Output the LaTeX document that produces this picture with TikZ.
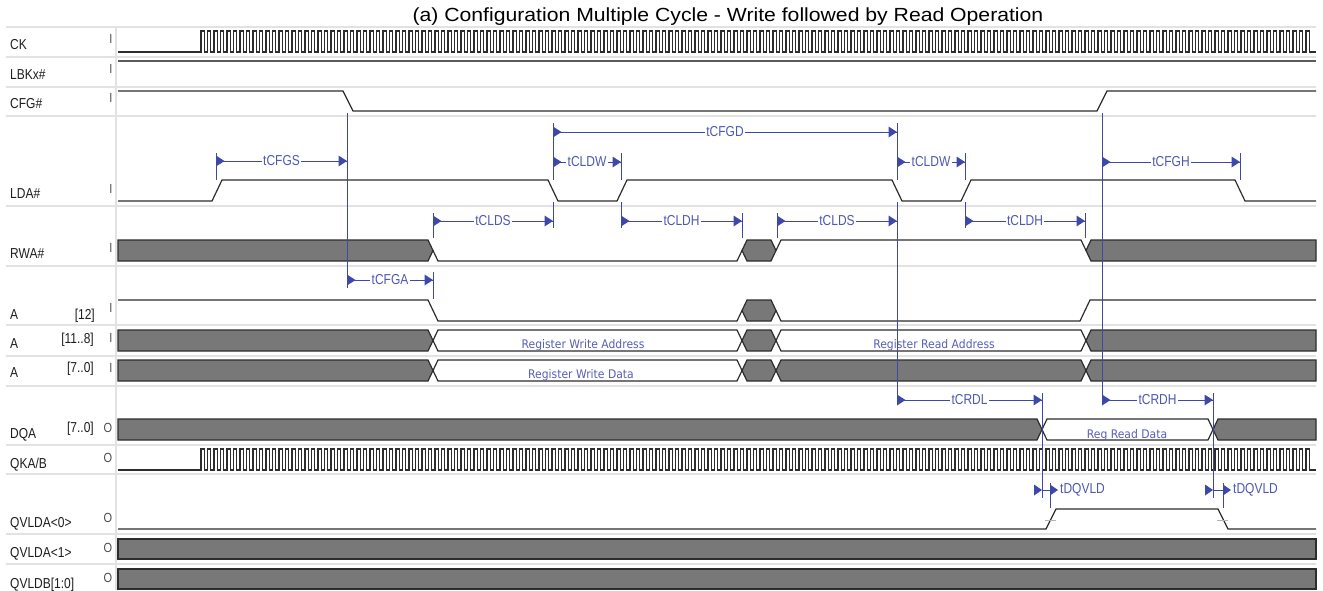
\documentclass[tikz,border=0pt]{standalone}
\usepackage{fontspec}
\setmainfont{Liberation Sans}
\newfontfamily\regfont{DejaVu Sans}
\definecolor{sig}{RGB}{45,45,45}
\definecolor{busfill}{RGB}{120,120,120}
\definecolor{sepc}{RGB}{226,226,226}
\definecolor{ann}{RGB}{62,72,168}
\definecolor{anntext}{RGB}{78,88,178}
\definecolor{regtext}{RGB}{88,95,182}
\definecolor{lbk}{RGB}{90,90,90}
\definecolor{labc}{RGB}{30,30,30}
\newcommand\tall[1]{\scalebox{1}[1.2]{#1}}
\newcommand\bushex[5]{\path[#1] (#2,{(#4+#5)/2}) -- (#2+5,#4) -- (#3-5,#4) -- (#3,{(#4+#5)/2}) -- (#3-5,#5) -- (#2+5,#5) -- cycle;}
\newcommand\busleft[4]{\path[#1] (118,#3) -- (#2-5,#3) -- (#2,{(#3+#4)/2}) -- (#2-5,#4) -- (118,#4) -- cycle;}
\newcommand\busright[4]{\path[#1] (1316,#3) -- (#2+5,#3) -- (#2,{(#3+#4)/2}) -- (#2+5,#4) -- (1316,#4) -- cycle;}
\newcommand\tarrow[5]{%
  \draw[annline] (#2,#4) -- (#3,#4);
  \fill[ann] (#2,#4-5.5) -- (#2+8.5,#4) -- (#2,#4+5.5) -- cycle;
  \fill[ann] (#3-8.5,#4-5.5) -- (#3,#4) -- (#3-8.5,#4+5.5) -- cycle;
  \node[anntxt] (#1) at ({(#2+#3)/2},#4) {\tall{#5}};}
\begin{document}
\begin{tikzpicture}[x=1pt,y=-1pt,
  sigline/.style={draw=sig,line width=1.2pt,line join=miter},
  bus/.style={draw=sig,fill=busfill,line width=1.2pt},
  wbus/.style={draw=sig,fill=white,line width=1.2pt},
  sepline/.style={draw=sepc,line width=1.6pt},
  annline/.style={draw=ann,line width=0.9pt},
  anntxt/.style={fill=white,inner sep=1.2pt,text=anntext,font=\fontsize{12}{12}\selectfont},
  lbl/.style={anchor=base west,inner sep=0,text=labc,font=\fontsize{12}{12}\selectfont},
  sublbl/.style={anchor=base east,inner sep=0,text=labc,font=\fontsize{12}{12}\selectfont},
  io/.style={anchor=base,inner sep=0,text=labc!80,font=\fontsize{11}{11}\selectfont},
  regtxt/.style={anchor=base,inner sep=0,text=regtext,font=\regfont\fontsize{10.8}{10.8}\selectfont}]
\useasboundingbox (0,0) rectangle (1323,590);
\fill[white] (0,0) rectangle (1323,590);
% separators
\foreach \yy in {27,57,87,116,206,266,325,356,386,445,474,534,564}
  \draw[sepline] (6,\yy) -- (1316,\yy);
\draw[sepline] (116,27) -- (116,590);
% title
\node[anchor=base,inner sep=0,font=\fontsize{19}{19}\selectfont] (title) at (728,21) {\scalebox{1.115}[1]{(a) Configuration Multiple Cycle - Write followed by Read Operation}};
% labels
\node[lbl] (lck) at (10,49) {\tall{CK}};
\node[lbl] (llbk) at (10,79) {\tall{LBKx\#}};
\node[lbl] (lcfg) at (10,108) {\tall{CFG\#}};
\node[lbl] (llda) at (10,198) {\tall{LDA\#}};
\node[lbl] (lrwa) at (10,258) {\tall{RWA\#}};
\node[lbl] (la12) at (10,319) {\tall{A}};
\node[lbl] (la118) at (10,348) {\tall{A}};
\node[lbl] (la70) at (10,377) {\tall{A}};
\node[lbl] (ldqa) at (10,438) {\tall{DQA}};
\node[lbl] (lqk) at (10,468) {\tall{QKA/B}};
\node[lbl] (lqv0) at (10,527) {\tall{QVLDA<0>}};
\node[lbl] (lqv1) at (10,557) {\tall{QVLDA<1>}};
\node[lbl] (lqvb) at (10,588) {\tall{QVLDB[1:0]}};
\node[sublbl] (s12) at (95,319) {\tall{[12]}};
\node[sublbl] (s118) at (94,343) {\tall{[11..8]}};
\node[sublbl] (s70) at (94,372) {\tall{[7..0]}};
\node[sublbl] (sdq) at (94,432) {\tall{[7..0]}};
% I/O markers
\foreach \yy/\nm in {43/i1,73/i2,102/i3,193/i4,252/i5,312/i6,342/i7,372/i8}
  \node[io] (\nm) at (111,\yy) {\tall{I}};
\foreach \yy/\nm in {432/o1,462/o2,522/o3,552/o4,582/o5}
  \node[io] (\nm) at (108,\yy) {\tall{O}};
% CK
\draw[sigline] (118,52) -- (201,52) foreach \i in {1,...,171} { -- ++(0,-21) -- ++(3.25,0) -- ++(0,21) -- ++(3.25,0)} -- (1316,52);
% LBKx#
\draw[lbk,line width=2pt] (118,61) -- (1316,61);
% CFG#
\draw[sigline] (118,91) -- (343,91) -- (353,111) -- (1097,111) -- (1107,91) -- (1316,91);
% LDA#
\draw[sigline] (118,201) -- (212,201) -- (222,180) -- (548,180) -- (558,201) -- (617,201) -- (627,180) -- (892,180) -- (902,201) -- (961,201) -- (971,180) -- (1235,180) -- (1245,201) -- (1316,201);
% RWA#
\busleft{bus}{433}{240}{261}
\draw[sigline] (433,250.5) -- (438,261) -- (737,261) -- (742,250.5);
\bushex{bus}{742}{776}{240}{261}
\draw[sigline] (776,250.5) -- (781,240) -- (1081,240) -- (1086,250.5);
\busright{bus}{1086}{240}{261}
% A[12]
\draw[sigline] (118,300) -- (428,300) -- (438,321) -- (737,321) -- (742,310.5);
\bushex{bus}{742}{776}{300}{321}
\draw[sigline] (776,310.5) -- (781,321) -- (1080,321) -- (1090,300) -- (1316,300);
% A[11..8]
\busleft{bus}{433}{330}{351}
\bushex{wbus}{433}{742}{330}{351}
\bushex{bus}{742}{776}{330}{351}
\bushex{wbus}{776}{1086}{330}{351}
\busright{bus}{1086}{330}{351}
\node[regtxt] (rwa) at (583,348) {\scalebox{1}[1.1]{Register Write Address}};
\node[regtxt] (rra) at (934,348) {\scalebox{1}[1.1]{Register Read Address}};
% A[7..0]
\busleft{bus}{433}{360}{381}
\bushex{wbus}{433}{742}{360}{381}
\bushex{bus}{742}{776}{360}{381}
\bushex{bus}{776}{1086}{360}{381}
\busright{bus}{1086}{360}{381}
\node[regtxt] (rwd) at (581,378) {\scalebox{1}[1.1]{Register Write Data}};
% DQA
\busleft{bus}{1042}{419}{440}
\bushex{wbus}{1042}{1213}{419}{440}
\busright{bus}{1213}{419}{440}
\node[regtxt] (rrd) at (1127,438) {\scalebox{1}[1.1]{Reg Read Data}};
% QKA/B
\draw[sigline] (118,470) -- (201,470) foreach \i in {1,...,171} { -- ++(0,-21) -- ++(3.25,0) -- ++(0,21) -- ++(3.25,0)} -- (1316,470);
% QVLDA<0>
\draw[sigline] (118,529) -- (1046,529) -- (1056,509) -- (1218,509) -- (1228,529) -- (1316,529);
\draw[gray!60,line width=0.8pt] (1045,520) -- (1056,520) (1217,520) -- (1228,520);
% QVLDA<1>, QVLDB
\path[bus] (118,539) rectangle (1316,559);
\path[bus] (118,569) rectangle (1316,589);
% annotation verticals
\draw[annline] (347,113) -- (347,288);
\draw[annline] (216,153) -- (216,180);
\draw[annline] (433,213) -- (433,238) (433,272) -- (433,299);
\draw[annline] (553,123) -- (553,180) (553,202) -- (553,228);
\draw[annline] (621,153) -- (621,180) (621,202) -- (621,228);
\draw[annline] (742,213) -- (742,238);
\draw[annline] (777,213) -- (777,238);
\draw[annline] (897,123) -- (897,180) (897,202) -- (897,400);
\draw[annline] (965,153) -- (965,180) (965,202) -- (965,228);
\draw[annline] (1085,213) -- (1085,238);
\draw[annline] (1102,113) -- (1102,400);
\draw[annline] (1240,153) -- (1240,180);
\draw[annline] (1042,393) -- (1042,498);
\draw[annline] (1213,393) -- (1213,498);
\draw[annline] (1050,483) -- (1050,508);
\draw[annline] (1223,483) -- (1223,508);
% timing arrows
\tarrow{tcfgs}{216}{347}{161}{tCFGS}
\tarrow{tcfga}{347}{433}{280}{tCFGA}
\tarrow{tcfgd}{553}{897}{132}{tCFGD}
\tarrow{tcldwa}{553}{621}{162}{tCLDW}
\tarrow{tcldsa}{433}{553}{221}{tCLDS}
\tarrow{tcldha}{621}{742}{221}{tCLDH}
\tarrow{tcldsb}{777}{897}{221}{tCLDS}
\tarrow{tcldwb}{897}{965}{162}{tCLDW}
\tarrow{tcldhb}{965}{1085}{221}{tCLDH}
\tarrow{tcfgh}{1102}{1240}{162}{tCFGH}
\tarrow{tcrdl}{897}{1042}{400}{tCRDL}
\tarrow{tcrdh}{1102}{1213}{400}{tCRDH}
% tDQVLD
\draw[annline] (1042,490) -- (1050,490) (1213,490) -- (1223,490);
\fill[ann] (1034,484.5) -- (1042,490) -- (1034,495.5) -- cycle;
\fill[ann] (1050,484.5) -- (1058,490) -- (1050,495.5) -- cycle;
\fill[ann] (1205,484.5) -- (1213,490) -- (1205,495.5) -- cycle;
\fill[ann] (1223,484.5) -- (1231,490) -- (1223,495.5) -- cycle;
\node[anntxt,anchor=west,inner sep=1pt] (tdqa) at (1059,490) {\tall{tDQVLD}};
\node[anntxt,anchor=west,inner sep=1pt] (tdqb) at (1232,490) {\tall{tDQVLD}};
\end{tikzpicture}
\end{document}
